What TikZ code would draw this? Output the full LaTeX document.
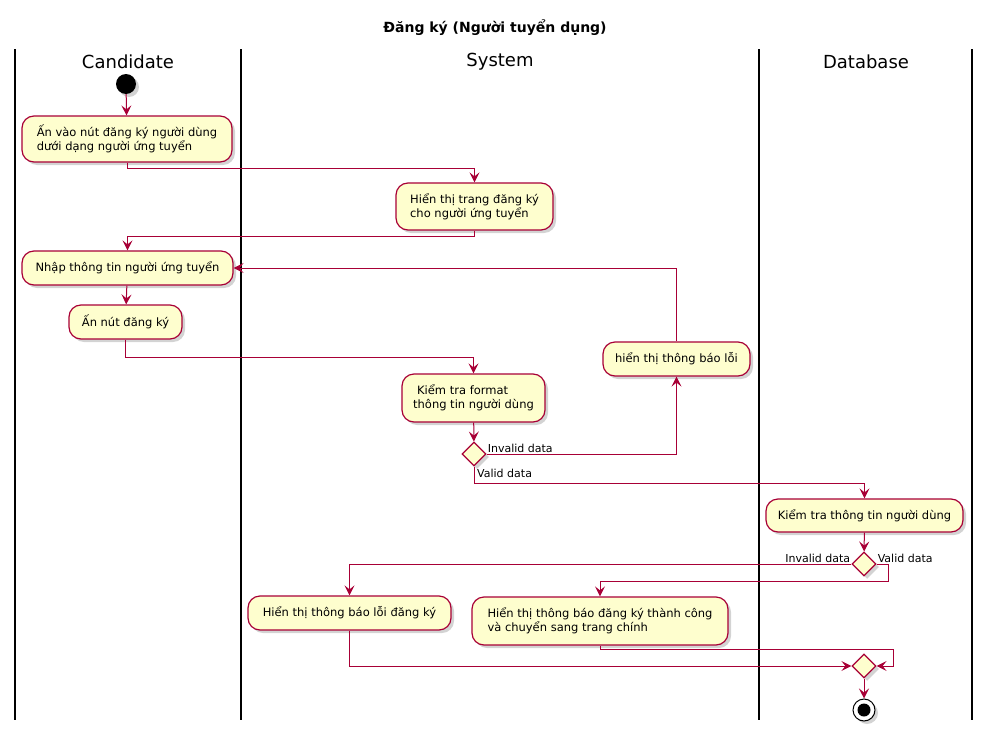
\documentclass[tikz,border=0pt]{standalone}
\usepackage{fontspec}
\setmainfont{DejaVu Sans}
\usetikzlibrary{arrows.meta,shapes.geometric,shadows}
\definecolor{umlred}{HTML}{A80036}
\definecolor{umlfill}{HTML}{FEFECE}
\begin{document}
\begin{tikzpicture}[x=1pt,y=-1pt,
  act/.style={draw=umlred,fill=umlfill,line width=1.2pt,rounded corners=12pt,align=left,inner sep=2pt,
    font=\fontsize{11.5}{14}\selectfont,drop shadow={shadow xshift=3pt,shadow yshift=-3pt,opacity=0.35,fill=gray}},
  dec/.style={diamond,draw=umlred,fill=umlfill,line width=1.2pt,minimum width=24pt,minimum height=24pt,inner sep=0pt,
    drop shadow={shadow xshift=3pt,shadow yshift=-3pt,opacity=0.35,fill=gray}},
  flow/.style={draw=umlred,line width=1pt,-{Stealth[length=10pt,width=10pt,inset=4pt]}},
  lane/.style={line width=1.4pt},
  hdr/.style={font=\fontsize{18}{20}\selectfont},
  lbl/.style={font=\fontsize{11}{12}\selectfont,inner sep=1pt}]
\useasboundingbox (0,0) rectangle (991,736);
\node[font=\bfseries\fontsize{14}{16}\selectfont] (title) at (495,28) {Đăng ký (Người tuyển dụng)};
\foreach \x in {15,241,759,972}
  \draw[lane] (\x,49) -- (\x,720);
\node[hdr] (hC) at (128,62) {Candidate};
\node[hdr] (hS) at (500,62) {System};
\node[hdr] (hD) at (866,62) {Database};

\node[circle,fill=black,minimum size=20pt,inner sep=0pt,
  drop shadow={shadow xshift=3pt,shadow yshift=-3pt,opacity=0.35,fill=gray}] (start) at (126,84) {};
\node[act,minimum width=210pt,minimum height=46pt] (A1) at (127,139) {Ấn vào nút đăng ký người dùng\\dưới dạng người ứng tuyển};
\node[act,minimum width=157pt,minimum height=47pt] (A2) at (474.5,206.5) {Hiển thị trang đăng ký\\cho người ứng tuyển};
\node[act,minimum width=211pt,minimum height=34pt] (A3) at (127.5,268) {Nhập thông tin người ứng tuyển};
\node[act,minimum width=113pt,minimum height=34pt] (A4) at (125.5,322) {Ấn nút đăng ký};
\node[act,minimum width=143pt,minimum height=48pt] (A5) at (473.5,398) {\hspace{4pt}Kiểm tra format\\thông tin người dùng};
\node[dec] (D1) at (474,454) {};
\node[act,minimum width=147pt,minimum height=34pt] (E1) at (676.5,359) {hiển thị thông báo lỗi};
\node[act,minimum width=197pt,minimum height=33pt] (B1) at (864.5,515.5) {Kiểm tra thông tin người dùng};
\node[dec] (D2) at (864,564) {};
\node[act,minimum width=203pt,minimum height=34pt] (F1) at (349.5,613) {Hiển thị thông báo lỗi đăng ký};
\node[act,minimum width=256pt,minimum height=48pt] (F2) at (600,621) {Hiển thị thông báo đăng ký thành công\\và chuyển sang trang chính};
\node[dec] (D3) at (864,666) {};
\node[circle,draw=black,line width=1pt,fill=white,minimum size=22pt,inner sep=0pt,
  drop shadow={shadow xshift=3pt,shadow yshift=-3pt,opacity=0.35,fill=gray}] (stop) at (864,710) {};
\node[circle,fill=black,minimum size=13pt,inner sep=0pt] (stopdot) at (stop) {};

\draw[flow] (start) -- (A1);
\draw[flow] (A1.south) -- ++(0,6) -| (A2.north);
\draw[flow] (A2.south) -- ++(0,6) -| (A3.north);
\draw[flow] (A3) -- (A4);
\draw[flow] (A4.south) -- ++(0,18) -| (A5.north);
\draw[flow] (A5) -- (D1);
\draw[flow] (D1.east) -| (E1.south);
\node[lbl,anchor=south west] (l1) at (D1.east) {Invalid data};
\draw[flow] (E1.north) |- (A3.east);
\draw[flow] (D1.south) -- ++(0,17) -| (B1.north);
\node[lbl,anchor=north west] (l2) at ([xshift=2pt,yshift=-1pt]D1.south) {Valid data};
\draw[flow] (B1) -- (D2);
\draw[flow] (D2.west) -| (F1.north);
\node[lbl,anchor=south east] (l3) at (D2.west) {Invalid data};
\draw[flow] (D2.east) -- ++(12,0) -- ++(0,17) -| (F2.north);
\node[lbl,anchor=south west] (l4) at (D2.east) {Valid data};
\draw[flow] (F1.south) |- (D3.west);
\draw[flow] (F2.south) -- ++(0,4) -| ([xshift=17pt]D3.east) -- (D3.east);
\draw[flow] (D3) -- (stop);
\end{tikzpicture}
\end{document}
